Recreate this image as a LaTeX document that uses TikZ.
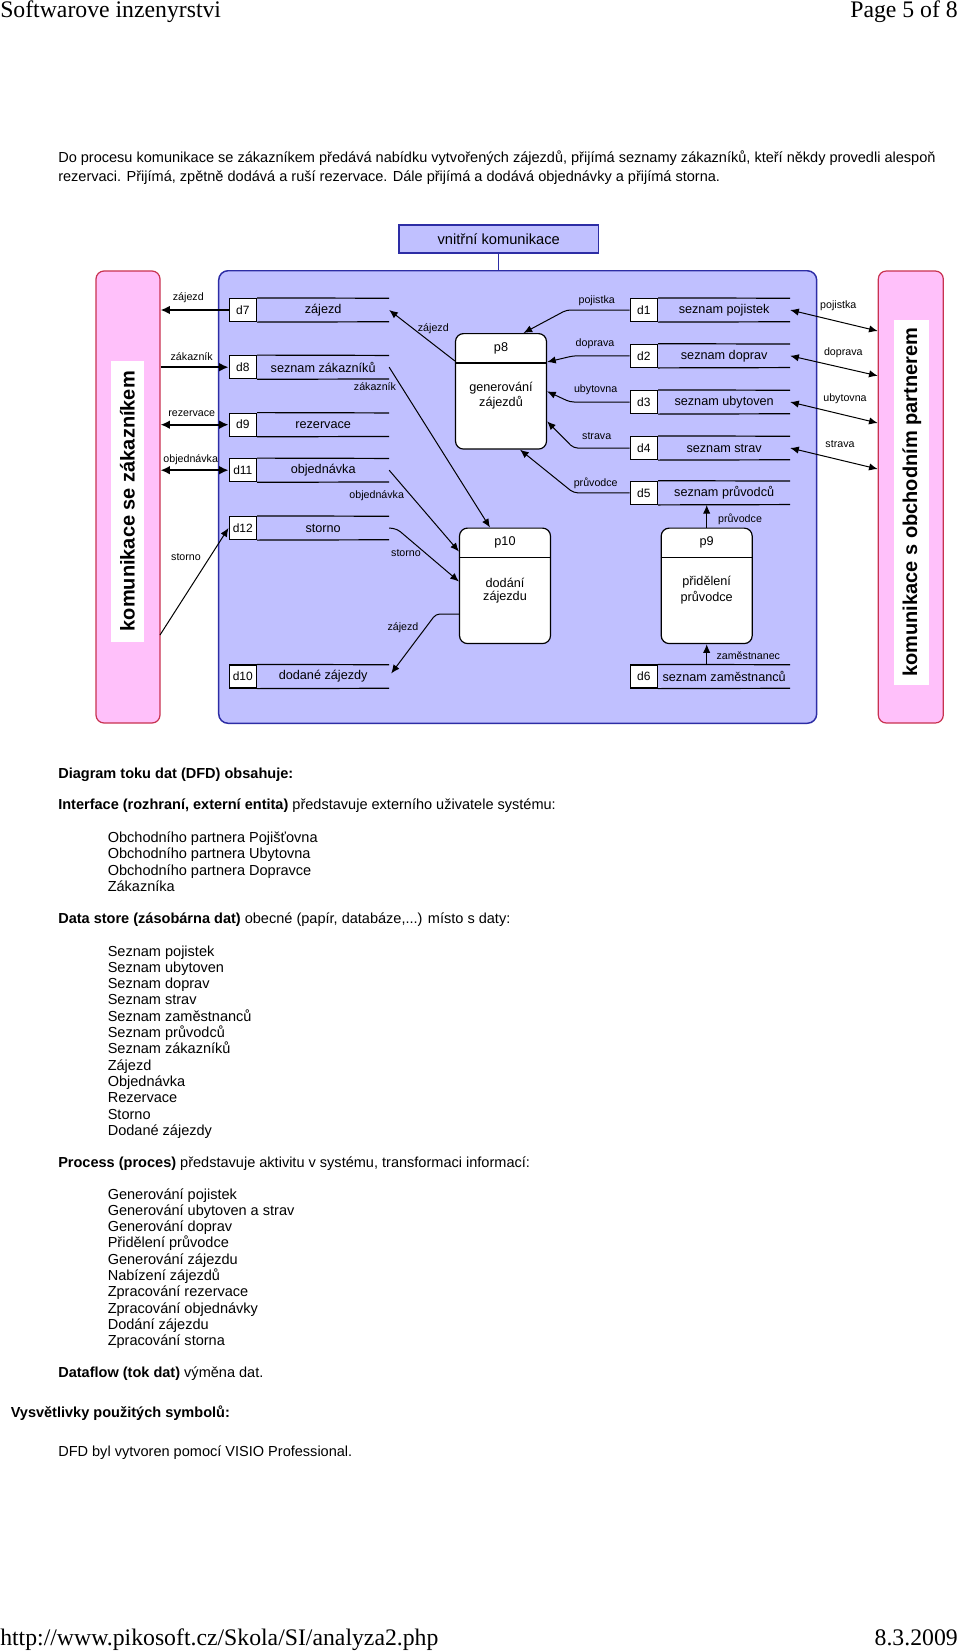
\documentclass[tikz,border=0pt]{standalone}
\usepackage{fontspec}
\setmainfont{Liberation Sans}
\newfontfamily\timesfont{Liberation Serif}
\usetikzlibrary{arrows.meta,calc}
\definecolor{lav}{RGB}{192,192,255}
\definecolor{navyb}{RGB}{45,45,165}
\definecolor{pinkf}{RGB}{255,192,250}
\definecolor{pinkb}{RGB}{200,50,80}
\tikzset{
 body/.style={anchor=base west, inner sep=0pt, font=\fontsize{10.9}{13}\selectfont},
 bodyb/.style={anchor=base west, inner sep=0pt, font=\fontsize{10.9}{13}\selectfont\bfseries},
 para/.style={anchor=base west, inner sep=0pt, font=\fontsize{10.9}{13}\selectfont},
 hdr/.style={inner sep=0pt, font=\timesfont\fontsize{17.8}{20}\selectfont},
 flbl/.style={inner sep=0pt, font=\fontsize{8}{9}\selectfont},
 flow/.style={line width=0.75pt, rounded corners=3pt, -{Latex[length=6.5pt,width=5.5pt]}},
 flowb/.style={line width=0.75pt, rounded corners=3pt, {Latex[length=6.5pt,width=5.5pt]}-{Latex[length=6.5pt,width=5.5pt]}},
 eflow/.style={line width=1.2pt, -{Latex[length=7pt,width=6.5pt]}},
 eflowb/.style={line width=1.2pt, {Latex[length=7pt,width=6.5pt]}-{Latex[length=7pt,width=6.5pt]}},
 numbox/.style={draw, fill=white, line width=0.9pt, minimum width=20.6pt, minimum height=17.25pt, inner sep=0pt, font=\fontsize{9}{10}\selectfont},
 storelbl/.style={minimum width=98.6pt, minimum height=17.25pt, inner sep=0pt, font=\fontsize{9.5}{11}\selectfont},
 proc/.style={draw, fill=white, line width=0.9pt, rounded corners=6pt, minimum width=68.25pt, minimum height=86.6pt, inner sep=0pt},
 ptext/.style={inner sep=0pt, font=\fontsize{9.5}{11}\selectfont},
 entity/.style={draw=pinkb, fill=pinkf, line width=0.9pt, rounded corners=6pt, inner sep=0pt},
 entlbl/.style={fill=white, inner sep=0pt, rotate=90, font=\fontsize{15}{18}\selectfont\bfseries},
}
\newcommand\dstore[5]{%
  \node[numbox, anchor=west] (#1n) at (#2,#3) {#4};
  \node[storelbl, anchor=west] (#1) at (#1n.east) {#5};
  \draw[line width=0.9pt] (#1n.north east) -- (#1.north east);
  \draw[line width=0.9pt] (#1n.south east) -- (#1.south east);
}
\newcommand\dfdproc[6]{%
  \node[proc, anchor=north] (#1) at (#2,#3) {};
  \draw[line width=0.9pt] ($(#1.north west)+(0,30)$) -- ($(#1.north east)+(0,30)$);
  \node[ptext] (#1id) at ($(#1.north)+(0,15)$) {#4};
  \node[ptext] (#1ta) at ($(#1.north)+(0,55)$) {#5};
  \node[ptext] (#1tb) at ($(#1.north)+(0,70)$) {#6};
}
\begin{document}
\begin{tikzpicture}[x=0.75pt,y=-0.75pt]
\useasboundingbox (0,0) rectangle (960,1652);
\fill[white] (0,0) rectangle (960,1652);

% header / footer
\node[hdr, anchor=base west] (h1) at (0,18) {Softwarove inzenyrstvi};
\node[hdr, anchor=base east] (h2) at (958,18) {Page 5 of 8};
\node[hdr, anchor=base west] (f1) at (0,1645) {http://www.pikosoft.cz/Skola/SI/analyza2.php};
\node[hdr, anchor=base east] (f2) at (958,1645) {8.3.2009};

% intro paragraph
\node[para] (par1) at (58,162) {Do procesu komunikace se zákazníkem předává nabídku vytvořených zájezdů, přijímá seznamy zákazníků, kteří někdy provedli alespoň};
\node[para] (par2) at (58,181) {rezervaci. Přijímá, zpětně dodává a ruší rezervace. Dále přijímá a dodává objednávky a přijímá storna.};

% ---------------- diagram ----------------
\node[draw=navyb, fill=lav, line width=1.1pt, rounded corners=7pt, minimum width=448.5pt, minimum height=339.4pt, inner sep=0pt] (sys) at (517.7,497) {};
\node[draw=navyb, fill=lav, line width=1.1pt, minimum width=149.5pt, minimum height=20.8pt, inner sep=0pt, font=\fontsize{11}{13}\selectfont] (vk) at (498.7,238.9) {vnitřní komunikace};
\draw[navyb, line width=1pt] (vk.south) -- (vk.south |- sys.north);

\node[entity, minimum width=48pt, minimum height=339pt] (cust) at (128,497) {};
\node[entlbl, minimum width=210.75pt, minimum height=25pt] (custL) at (127.3,501.2) {komunikace se zákazníkem};
\node[entity, minimum width=48.75pt, minimum height=339pt] (part) at (910.8,497) {};
\node[entlbl, minimum width=273.4pt, minimum height=26.25pt] (partL) at (911.8,502.3) {komunikace s obchodním partnerem};

% data stores
\dstore{d7}{228.5}{310}{d7}{zájezd}
\dstore{d8}{228.5}{367.2}{d8}{seznam zákazníků}
\dstore{d9}{228.5}{424.7}{d9}{rezervace}
\dstore{d11}{228.5}{470.2}{d11}{objednávka}
\dstore{d12}{228.5}{528}{d12}{storno}
\dstore{d10}{228.5}{676.5}{d10}{dodané zájezdy}
\dstore{d1}{629.5}{310}{d1}{seznam pojistek}
\dstore{d2}{629.5}{355.8}{d2}{seznam doprav}
\dstore{d3}{629.5}{402}{d3}{seznam ubytoven}
\dstore{d4}{629.5}{448}{d4}{seznam strav}
\dstore{d5}{629.5}{492.8}{d5}{seznam průvodců}
\dstore{d6}{629.5}{676.5}{d6}{seznam zaměstnanců}

% processes
\dfdproc{p8}{501}{333}{p8}{generování}{zájezdů}
\dfdproc{p10}{505}{527.5}{p10}{dodání}{zájezdu}
\dfdproc{p9}{706.7}{527.5}{p9}{přidělení}{průvodce}

% customer side flows
\draw[eflow] (d7n.west) -- (cust.east |- d7n.west);
\draw[eflow] (cust.east |- d8n.west) -- (d8n.west);
\draw[eflowb] (cust.east |- d9n.west) -- (d9n.west);
\draw[eflowb] (cust.east |- d11n.west) -- (d11n.west);
\coordinate (stS) at (160,635);
\draw[flow] (stS) -- (d12n.west);
\node[flbl] (l1) at (188.3,297.3) {zájezd};
\node[flbl] (l2) at (191.7,356.7) {zákazník};
\node[flbl] (l3) at (191.7,413.3) {rezervace};
\node[flbl] (l4) at (190.7,460) {objednávka};
\node[flbl] (l5) at (186,556.7) {storno};

% partner side flows
\draw[flowb] (d1.east) -- ($(part.west |- d1.east)+(0,21)$);
\draw[flowb] (d2.east) -- ($(part.west |- d2.east)+(0,20)$);
\draw[flowb] (d3.east) -- ($(part.west |- d3.east)+(0,21)$);
\draw[flowb] (d4.east) -- ($(part.west |- d4.east)+(0,21)$);
\node[flbl] (r1) at (838.3,306) {pojistka};
\node[flbl] (r2) at (843.3,352.7) {doprava};
\node[flbl] (r3) at (845,399) {ubytovna};
\node[flbl] (r4) at (840,444.3) {strava};

% internal flows
\draw[flow] ($(p8.north west)+(0,28)$) -- (d7.east);
\draw[flow] (d8.east) -- ($(p10.north)+(-15,0)$);
\draw[flow] (d11.east) -- ($(p10.north west)+(0,24)$);
\draw[flow] (d12.east) -- ++(8,1) -- ($(p10.north west)+(0,54)$);
\draw[flow] ($(p10.north west)+(0,86.5)$) -- ++(-23,0) -- ($(d10.east)+(2,-3)$);
\draw[flow] (d1n.west) -- ++(-63,0) -- ($(p8.north)+(22.5,0)$);
\draw[flow] (d2n.west) -- ++(-56,0) -- ($(p8.north east)+(0,29)$);
\draw[flow] (d3n.west) -- ++(-59.5,0) -- (p8.east);
\draw[flow] (d4n.west) -- ++(-56,0) -- ($(p8.east)+(0,30)$);
\draw[flow] (d5n.west) -- ++(-56,0) -- ($(p8.south)+(19,0)$);
\draw[flow] (p9.north) -- (p9.north |- d5n.south);
\draw[flow] (p9.south |- d6n.north) -- (p9.south);

\node[flbl] (i1) at (433.3,328.3) {zájezd};
\node[flbl] (i2) at (375,386.7) {zákazník};
\node[flbl] (i3) at (376.7,496) {objednávka};
\node[flbl] (i4) at (406,552.7) {storno};
\node[flbl] (i5) at (403,627.7) {zájezd};
\node[flbl] (i6) at (596.7,301) {pojistka};
\node[flbl] (i7) at (595,343.3) {doprava};
\node[flbl] (i8) at (595.7,389.3) {ubytovna};
\node[flbl] (i9) at (596.7,436) {strava};
\node[flbl] (i10) at (595.7,483.3) {průvodce};
\node[flbl] (i11) at (740,519) {průvodce};
\node[flbl] (i12) at (748.3,655.7) {zaměstnanec};

% ---------------- text below ----------------
\node[bodyb] (t1) at (58,778) {Diagram toku dat (DFD) obsahuje:};
\node[body] (t2) at (58,809.5) {\textbf{Interface (rozhraní, externí entita)} představuje externího uživatele systému:};
\foreach \t [count=\i from 0] in {Obchodního partnera Pojišťovna, Obchodního partnera Ubytovna, Obchodního partnera Dopravce, Zákazníka}
  \node[body] (ia\i) at (107.5,842.2+16.5*\i) {\t};
\node[body] (t3) at (58,923) {\textbf{Data store (zásobárna dat)} obecné (papír, databáze,...) místo s daty:};
\foreach \t [count=\i from 0] in {Seznam pojistek, Seznam ubytoven, Seznam doprav, Seznam strav, Seznam zaměstnanců, Seznam průvodců, Seznam zákazníků, Zájezd, Objednávka, Rezervace, Storno, Dodané zájezdy}
  \node[body] (ib\i) at (107.5,956+16.3*\i) {\t};
\node[body] (t4) at (58,1167.5) {\textbf{Process (proces)} představuje aktivitu v systému, transformaci informací:};
\foreach \t [count=\i from 0] in {Generování pojistek, Generování ubytoven a strav, Generování doprav, Přidělení průvodce, Generování zájezdu, Nabízení zájezdů, Zpracování rezervace, Zpracování objednávky, Dodání zájezdu, Zpracování storna}
  \node[body] (ic\i) at (107.5,1199+16.3*\i) {\t};
\node[body] (t5) at (58,1377) {\textbf{Dataflow (tok dat)} výměna dat.};
\node[bodyb] (t6) at (10.5,1417) {Vysvětlivky použitých symbolů:};
\node[body] (t7) at (58,1456) {DFD byl vytvoren pomocí VISIO Professional.};
\end{tikzpicture}
\end{document}
